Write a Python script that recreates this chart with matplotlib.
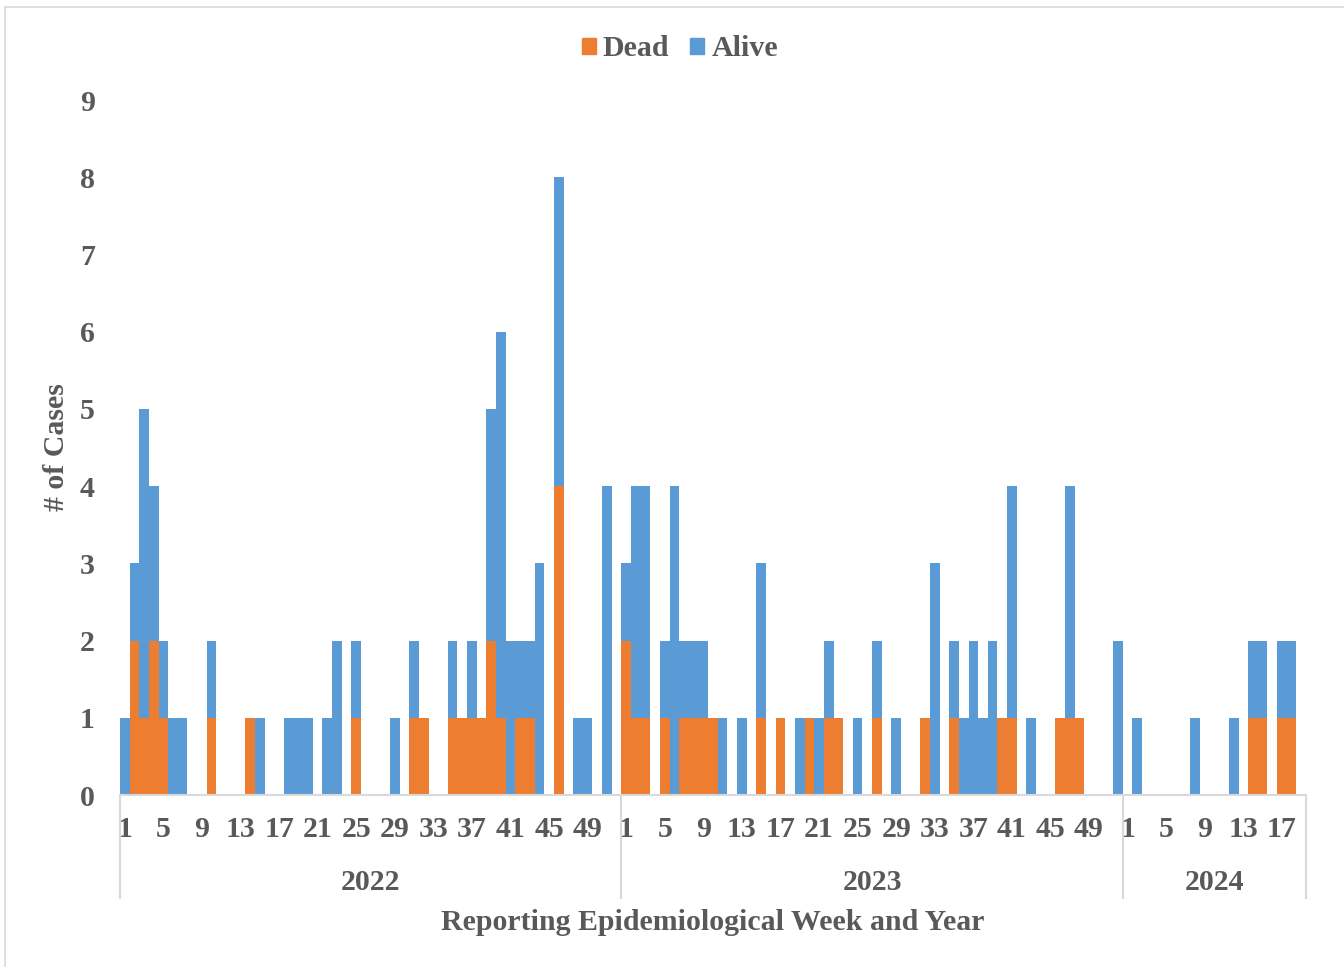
import numpy as np
import matplotlib
matplotlib.use('Agg')
import matplotlib.pyplot as plt
from matplotlib.patches import Patch, Rectangle
from matplotlib.transforms import blended_transform_factory

# 数据: 每周死亡 / 存活病例数
years = ['2022', '2023', '2024']
dead_2022 = [0, 2, 1, 2, 1, 0, 0, 0, 0, 1,
             0, 0, 0, 1, 0, 0, 0, 0, 0, 0,
             0, 0, 0, 0, 1, 0, 0, 0, 0, 0,
             1, 1, 0, 0, 1, 1, 1, 1, 2, 1,
             0, 1, 1, 0, 0, 4, 0, 0, 0, 0,
             0, 0]
alive_2022 = [1, 1, 4, 2, 1, 1, 1, 0, 0, 1,
              0, 0, 0, 0, 1, 0, 0, 1, 1, 1,
              0, 1, 2, 0, 1, 0, 0, 0, 1, 0,
              1, 0, 0, 0, 1, 0, 1, 0, 3, 5,
              2, 1, 1, 3, 0, 4, 0, 1, 1, 0,
              4, 0]
dead_2023 = [2, 1, 1, 0, 1, 0, 1, 1, 1, 1,
             0, 0, 0, 0, 1, 0, 1, 0, 0, 1,
             0, 1, 1, 0, 0, 0, 1, 0, 0, 0,
             0, 1, 0, 0, 1, 0, 0, 0, 0, 1,
             1, 0, 0, 0, 0, 1, 1, 1, 0, 0,
             0, 0]
alive_2023 = [1, 3, 3, 0, 1, 4, 1, 1, 1, 0,
              1, 0, 1, 0, 2, 0, 0, 0, 1, 0,
              1, 1, 0, 0, 1, 0, 1, 0, 1, 0,
              0, 0, 3, 0, 1, 1, 2, 1, 2, 0,
              3, 0, 1, 0, 0, 0, 3, 0, 0, 0,
              0, 2]
dead_2024 = [0, 0, 0, 0, 0, 0, 0, 0, 0, 0,
             0, 0, 0, 1, 1, 0, 1, 1, 0]
alive_2024 = [0, 1, 0, 0, 0, 0, 0, 1, 0, 0,
              0, 1, 0, 1, 1, 0, 1, 1, 0]

dead = np.array(dead_2022 + dead_2023 + dead_2024)
alive = np.array(alive_2022 + alive_2023 + alive_2024)
n_weeks = [len(dead_2022), len(dead_2023), len(dead_2024)]
week_no = np.concatenate([np.arange(1, n + 1) for n in n_weeks])
x = np.arange(len(dead))

c_dead = '#ED7D31'
c_alive = '#5B9BD5'
c_text = '#595959'
c_line = '#D9D9D9'
font = 'Liberation Serif'
fs = 21.5

fig = plt.figure(figsize=(13.44, 9.67), dpi=100)
ax = fig.add_axes([120 / 1344, 172 / 967, 1186 / 1344, 695 / 967])

ax.bar(x, dead, width=1.0, color=c_dead, label='Dead')
ax.bar(x, alive, width=1.0, bottom=dead, color=c_alive, label='Alive')

ax.set_xlim(-0.5, len(x) - 0.5)
ax.set_ylim(0, 9)
ax.set_yticks(range(10))
ax.set_yticklabels([str(i) for i in range(10)], fontfamily=font, fontweight='bold',
                   fontsize=fs, color=c_text)
ax.tick_params(axis='y', length=0, pad=18)

# 周标签 (每4周一个)
show = (week_no - 1) % 4 == 0
ax.set_xticks(x[show])
ax.set_xticklabels([str(w) for w in week_no[show]], fontfamily=font, fontweight='bold',
                   fontsize=fs, color=c_text)
ax.tick_params(axis='x', length=0, pad=15)

for s in ['top', 'right', 'left']:
    ax.spines[s].set_visible(False)
ax.spines['bottom'].set_color(c_line)
ax.spines['bottom'].set_linewidth(1.5)

# 年份分组及分隔线
tr = blended_transform_factory(ax.transData, fig.transFigure)
edges = np.concatenate([[0], np.cumsum(n_weeks)]) - 0.5
for e in edges:
    ax.plot([e, e], [172 / 967, 1 - 898 / 967], transform=tr, color=c_line,
            lw=1.5, clip_on=False)
for i, yr in enumerate(years):
    ax.text((edges[i] + edges[i + 1]) / 2, 1 - 883 / 967, yr, transform=tr,
            ha='center', va='center', fontfamily=font, fontweight='bold',
            fontsize=fs, color=c_text)

fig.text(713 / 1344, 1 - 923 / 967, 'Reporting Epidemiological Week and Year',
         ha='center', va='center', fontfamily=font, fontweight='bold',
         fontsize=fs, color=c_text)
ax.set_ylabel('# of Cases', fontfamily=font, fontweight='bold', fontsize=fs,
              color=c_text, labelpad=7)

handles = [Patch(color=c_dead, label='Dead'), Patch(color=c_alive, label='Alive')]
fig.legend(handles=handles, loc='center', bbox_to_anchor=(680 / 1344, 1 - 49 / 967),
           ncol=2, frameon=False, handlelength=0.45, handleheight=0.45,
           handletextpad=0.25, columnspacing=0.7,
           prop={'family': font, 'weight': 'bold', 'size': fs}, labelcolor=c_text)

# 图表外框
fig.patches.append(Rectangle((5 / 1344, -0.01), 1.02, 1.01 - 7 / 967,
                             transform=fig.transFigure, fill=False,
                             edgecolor=c_line, lw=1.2))

fig.savefig('out.png', dpi=100)
